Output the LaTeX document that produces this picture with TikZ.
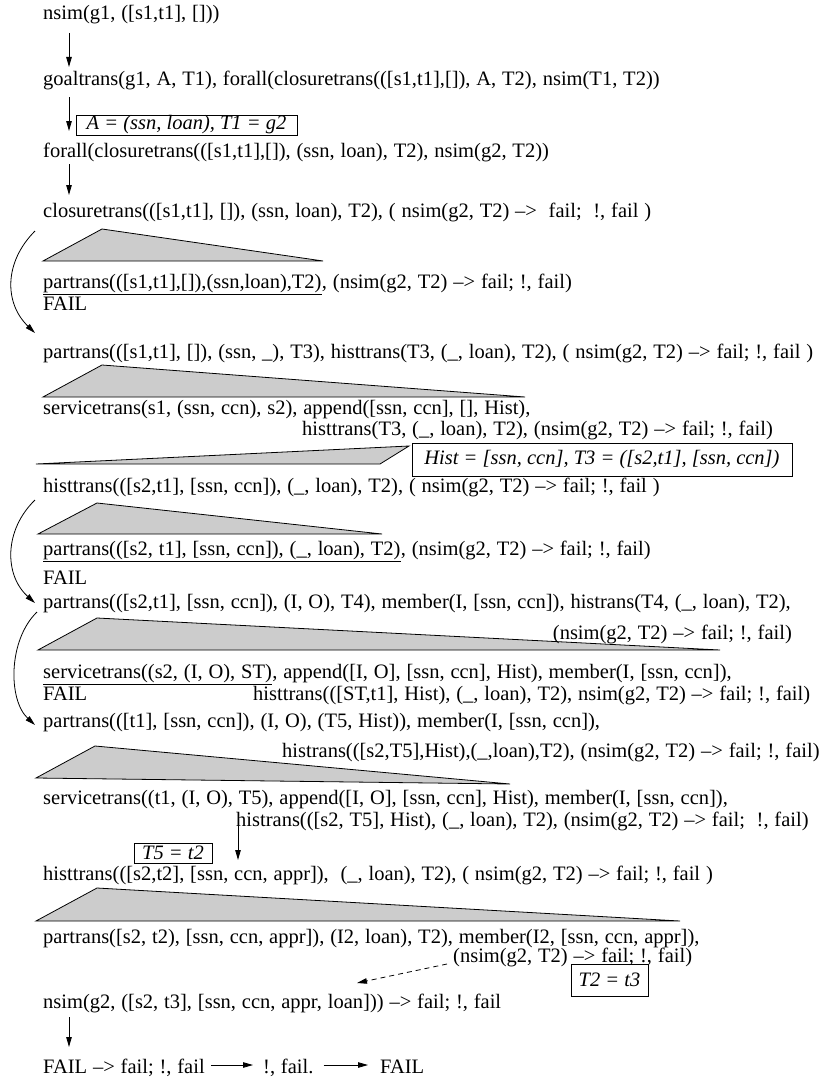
\documentclass[tikz,border=0pt]{standalone}
\usepackage{fontspec}
\setmainfont{Liberation Serif}
\usetikzlibrary{arrows.meta}
\newcommand\dgfont{\fontsize{20.5}{24}\selectfont\spaceskip 0.285em plus 0.1em minus 0.05em\relax}
\newcommand\dgifont{\fontsize{20.5}{24}\selectfont\itshape}
\begin{document}
\begin{tikzpicture}[x=1pt,y=-1pt,
  every node/.style={font=\dgfont},
  txt/.style={anchor=base west, inner sep=0pt},
  txtr/.style={anchor=base east, inner sep=0pt},
  arr/.style={line width=0.8pt, -{Triangle[length=10pt,width=5.5pt]}},
  darr/.style={arr, dash pattern=on 5pt off 4pt},
  tri/.style={draw, line width=0.8pt, fill=black!20, line join=miter},
  lbl/.style={draw, line width=0.8pt, inner sep=0pt, anchor=center, font=\dgifont},
  ul/.style={line width=0.8pt}]
\useasboundingbox (0,0) rectangle (821,1081);

% shaded expansion wedges
\draw[tri] (43,261) -- (102,229) -- (323,261) -- cycle;
\draw[tri] (43,397) -- (102,365) -- (525,397) -- cycle;
\draw[tri] (36,464) -- (380,464) -- (409,446) -- cycle;
\draw[tri] (38,534) -- (97,503) -- (382,534) -- cycle;
\draw[tri] (38,650) -- (97,618) -- (720,650) -- cycle;
\draw[tri] (36,778) -- (95,746) -- (510,784) -- cycle;
\draw[tri] (36,921) -- (97,888) -- (680,921) -- cycle;

% lines of the derivation
\node[txt] (L1) at (43,20) {nsim(g1, ([s1,t1], []))};
\node[txt] (L2) at (43,85) {goaltrans(g1, A, T1), forall(closuretrans(([s1,t1],[]), A, T2), nsim(T1, T2))};
\node[lbl, minimum width=221pt, minimum height=20pt] (B1) at (186.5,125) {A = (ssn, loan), T1 = g2\hspace{8pt}};
\node[txt] (L3) at (43,157) {forall(closuretrans(([s1,t1],[]), (ssn, loan), T2), nsim(g2, T2))};
\node[txt] (L4) at (43,217) {closuretrans(([s1,t1], []), (ssn, loan), T2), ( nsim(g2, T2) –>\ \ fail;\ \ !, fail )};
\node[txt] (U5) at (43,288) {partrans(([s1,t1],[]),(ssn,loan),T2)};
\node[txt] (R5) at (U5.base east) {, (nsim(g2, T2) –> fail; !, fail)};
\node[txt] (F5) at (43,310) {FAIL};
\node[txt] (L6) at (43,358) {partrans(([s1,t1], []), (ssn, \_), T3), histtrans(T3, (\_, loan), T2), ( nsim(g2, T2) –> fail; !, fail )};
\node[txt] (L7) at (43,414) {servicetrans(s1, (ssn, ccn), s2), append([ssn, ccn], [], Hist),};
\node[txt] (L8) at (302,435) {histtrans(T3, (\_, loan), T2), (nsim(g2, T2) –> fail; !, fail)};
\node[lbl, minimum width=380pt, minimum height=33pt] (B2) at (602,459.5) {Hist = [ssn, ccn], T3 = ([s2,t1], [ssn, ccn])};
\node[txt] (L9) at (43,492) {histtrans(([s2,t1], [ssn, ccn]), (\_, loan), T2), ( nsim(g2, T2) –> fail; !, fail )};
\node[txt] (U10) at (43,555) {partrans(([s2, t1], [ssn, ccn]), (\_, loan), T2)};
\node[txt] (R10) at (U10.base east) {, (nsim(g2, T2) –> fail; !, fail)};
\node[txt] (F10) at (43,584) {FAIL};
\node[txt] (L11) at (43,608) {partrans(([s2,t1], [ssn, ccn]), (I, O), T4), member(I, [ssn, ccn]), histrans(T4, (\_, loan), T2),};
\node[txtr] (L12) at (792,639) {(nsim(g2, T2) –> fail; !, fail)};
\node[txt] (U13) at (43,678) {servicetrans((s2, (I, O), ST)};
\node[txt] (R13) at (U13.base east) {, append([I, O], [ssn, ccn], Hist), member(I, [ssn, ccn]),};
\node[txt] (F14) at (43,700) {FAIL};
\node[txt] (L14) at (253,700) {histtrans(([ST,t1], Hist), (\_, loan), T2), nsim(g2, T2) –> fail; !, fail)};
\node[txt] (L15) at (43,727) {partrans(([t1], [ssn, ccn]), (I, O), (T5, Hist)), member(I, [ssn, ccn]),};
\node[txt] (L16) at (282,757) {histrans(([s2,T5],Hist),(\_,loan),T2), (nsim(g2, T2) –> fail; !, fail)};
\node[txt] (L17) at (43,804) {servicetrans((t1, (I, O), T5), append([I, O], [ssn, ccn], Hist), member(I, [ssn, ccn]),};
\node[txt] (L18) at (236,826) {histrans(([s2, T5], Hist), (\_, loan), T2), (nsim(g2, T2) –> fail;\ \ !, fail)};
\node[lbl, minimum width=78pt, minimum height=20pt] (B3) at (173,853) {T5 = t2};
\node[txt] (L19) at (43,880) {histtrans(([s2,t2], [ssn, ccn, appr]),\ \ (\_, loan), T2), ( nsim(g2, T2) –> fail; !, fail )};
\node[txt] (L20) at (43,943) {partrans([s2, t2), [ssn, ccn, appr]), (I2, loan), T2), member(I2, [ssn, ccn, appr]),};
\node[txt] (L21) at (453,962) {(nsim(g2, T2) –> fail; !, fail)};
\node[lbl, minimum width=77pt, minimum height=32pt] (B4) at (609.5,980) {T2 = t3};
\node[txt] (L22) at (43,1008) {nsim(g2, ([s2, t3], [ssn, ccn, appr, loan])) –> fail; !, fail};
\node[txt] (L23a) at (43,1073) {FAIL –> fail; !, fail};
\node[txt] (L23b) at (263,1073) {!, fail.};
\node[txt] (L23c) at (380,1073) {FAIL};

% underlines
\draw[ul] ([yshift=-6pt]U5.base west) -- ([yshift=-6pt]U5.base east);
\draw[ul] ([yshift=-6pt]U10.base west) -- ([yshift=-6pt]U10.base east);
\draw[ul] ([yshift=-6pt]U13.base west) -- ([yshift=-6pt]U13.base east);

% straight arrows
\draw[arr] ([xshift=26pt,yshift=-13pt]L1.base west) -- ([xshift=26pt,yshift=18pt]L2.base west);
\draw[arr] ([xshift=26pt,yshift=-12pt]L2.base west) -- ([xshift=26pt,yshift=26pt]L3.base west);
\draw[arr] ([xshift=26pt,yshift=-7pt]L3.base west) -- ([xshift=26pt,yshift=22pt]L4.base west);
\draw[arr] ([xshift=2pt,yshift=13pt]L18.base west) -- ([xshift=195pt,yshift=20pt]L19.base west);
\draw[darr] ([xshift=-6pt,yshift=-2pt]L21.base west) -- ([xshift=314pt,yshift=25pt]L22.base west);
\draw[arr] ([xshift=26pt,yshift=-9pt]L22.base west) -- ([xshift=26pt,yshift=26pt]L23a.base west);
\draw[arr] ([xshift=6pt,yshift=8pt]L23a.base east) -- ([xshift=-10pt,yshift=8pt]L23b.base west);
\draw[arr] ([xshift=10pt,yshift=8pt]L23b.base east) -- ([xshift=-12pt,yshift=8pt]L23c.base west);

% curved backtracking arrows
\draw[arr] ([xshift=-8pt,yshift=-14pt]L4.base west) .. controls (4,262) and (4,303) .. ([xshift=-8pt,yshift=25pt]L6.base west);
\draw[arr] ([xshift=-8pt,yshift=-8pt]L9.base west) .. controls (4,530) and (4,575) .. ([xshift=-8pt,yshift=5pt]L11.base west);
\draw[arr] ([xshift=-6pt,yshift=-4pt]L11.base west) .. controls (8,640) and (8,700) .. ([xshift=-8pt,yshift=2pt]L15.base west);
\end{tikzpicture}
\end{document}
